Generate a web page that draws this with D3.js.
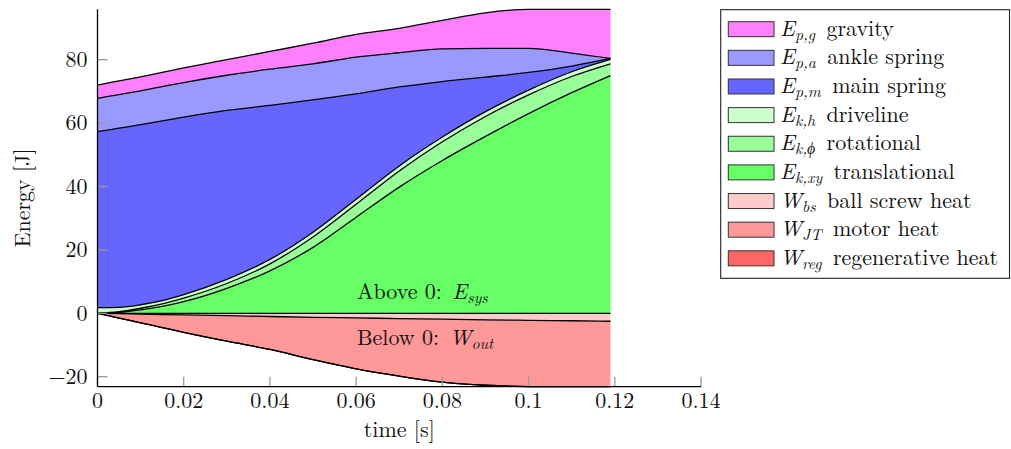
<!DOCTYPE html>
<html>
<head>
<meta charset="utf-8">
<script src="https://cdn.jsdelivr.net/npm/d3@7"></script>
<style>
  html, body { margin: 0; padding: 0; background: #fff; }
  text { white-space: pre; }
</style>
</head>
<body>
<svg id="chart" width="1011" height="449"></svg>
<script>
// Time samples [s]
const time = [0, 0.005, 0.01, 0.015, 0.02, 0.03, 0.04, 0.05, 0.06, 0.07, 0.08, 0.09, 0.1, 0.11, 0.119];

// System energy components [J] (stacked above zero)
const translational = [0, 0.3, 1.1, 2.2, 3.7, 7.9, 13.4, 20.8, 30.3, 39.8, 48.2, 55.8, 63.0, 69.6, 75.0];
const rotational    = [0, 0.2, 0.5, 0.8, 1.1, 1.5, 2.2, 3.3, 4.1, 5.1, 5.9, 6.3, 5.9, 5.1, 3.7];
const driveline     = [1.8, 1.4, 1.1, 1.0, 1.1, 1.3, 1.4, 1.5, 1.6, 1.6, 1.5, 1.5, 1.5, 1.5, 1.4];
const mainSpring    = [55.5, 56.5, 56.8, 56.7, 56.0, 53.3, 48.6, 41.7, 33.2, 24.9, 17.5, 10.9, 5.6, 1.8, 0.3];
const ankleSpring   = [10.5, 10.6, 10.7, 10.8, 10.9, 11.1, 11.4, 11.4, 11.6, 10.8, 10.3, 9.1, 7.6, 4.1, 0.0];
const gravity       = [4.2, 4.3, 4.4, 4.5, 4.6, 4.9, 5.6, 6.5, 7.2, 7.7, 9.0, 11.2, 12.3, 13.8, 15.5];

// Heat losses [J] (stacked below zero)
const ballScrewHeat = [0, -0.1, -0.25, -0.4, -0.5, -0.75, -1.0, -1.25, -1.45, -1.65, -1.85, -2.05, -2.2, -2.35, -2.5];
const motorHeat     = [0, -1.4, -2.75, -4.1, -5.5, -8.05, -10.4, -13.35, -16.05, -18.15, -19.85, -20.65, -20.9, -20.8, -20.65];
const regenHeat     = [0, 0, 0, 0, 0, 0, 0, 0, 0, 0, 0, 0, 0, 0, 0];

// Axis ticks
const xTicks = [0, 0.02, 0.04, 0.06, 0.08, 0.1, 0.12, 0.14];
const xTickLabels = ["0", "0.02", "0.04", "0.06", "0.08", "0.1", "0.12", "0.14"];
const yTicks = [-20, 0, 20, 40, 60, 80];
const yTickLabels = ["\u221220", "0", "20", "40", "60", "80"];

// Series definitions: key, symbol, subscript, description, fill
const positiveSeries = [
  { key: "trans", values: translational, sym: "E", sub: "k,xy", desc: "translational", fill: "#66ff66" },
  { key: "rot",   values: rotational,    sym: "E", sub: "k,\u03d5", desc: "rotational", fill: "#99ff99" },
  { key: "drive", values: driveline,     sym: "E", sub: "k,h", desc: "driveline", fill: "#ccffcc" },
  { key: "main",  values: mainSpring,    sym: "E", sub: "p,m", desc: "main spring", fill: "#6666ff" },
  { key: "ankle", values: ankleSpring,   sym: "E", sub: "p,a", desc: "ankle spring", fill: "#9999ff" },
  { key: "grav",  values: gravity,       sym: "E", sub: "p,g", desc: "gravity", fill: "#ff80ff" }
];
const negativeSeries = [
  { key: "bs",  values: ballScrewHeat, sym: "W", sub: "bs",  desc: "ball screw heat", fill: "#ffcccc" },
  { key: "jt",  values: motorHeat,     sym: "W", sub: "JT",  desc: "motor heat", fill: "#ff9999" },
  { key: "reg", values: regenHeat,     sym: "W", sub: "reg", desc: "regenerative heat", fill: "#ff6666" }
];

const rows = time.map((t, i) => {
  const r = { t };
  positiveSeries.concat(negativeSeries).forEach(s => { r[s.key] = s.values[i]; });
  return r;
});

const stackPos = d3.stack().keys(positiveSeries.map(s => s.key))(rows);
const stackNeg = d3.stack().keys(negativeSeries.map(s => s.key))(rows);

const allLayers = stackPos.concat(stackNeg);
const yMin = d3.min(allLayers, L => d3.min(L, d => Math.min(d[0], d[1])));
const yMax = d3.max(allLayers, L => d3.max(L, d => Math.max(d[0], d[1])));

const plot = { left: 97.5, right: 701, top: 9.3, bottom: 386.7 };
const x = d3.scaleLinear().domain([0, 0.14]).range([plot.left, plot.right]);
const y = d3.scaleLinear().domain([yMin, yMax]).range([plot.bottom, plot.top]);

const svg = d3.select("#chart");
const FONT = '"Latin Modern Roman", "Liberation Serif", serif';
const FS = 22;

// text helper with the serif face applied directly
function label(parent, size) {
  return parent.append("text")
    .style("font-family", FONT)
    .style("font-size", size + "px")
    .attr("fill", "#111");
}

const area = d3.area()
  .curve(d3.curveMonotoneX)
  .x(d => x(d.data.t))
  .y0(d => y(d[0]))
  .y1(d => y(d[1]));
const lineTop = d3.line().curve(d3.curveMonotoneX).x(d => x(d.data.t)).y(d => y(d[1]));
const lineBase = d3.line().curve(d3.curveMonotoneX).x(d => x(d.data.t)).y(d => y(d[0]));

const gArea = svg.append("g");
function drawStack(layers, defs) {
  layers.forEach((L, i) => {
    gArea.append("path").attr("d", area(L)).attr("fill", defs[i].fill).attr("stroke", "none");
  });
}
drawStack(stackPos, positiveSeries);
drawStack(stackNeg, negativeSeries);

// boundary lines
const gLines = svg.append("g").attr("fill", "none").attr("stroke", "#000").attr("stroke-width", 1.3);
gLines.append("path").attr("d", lineBase(stackPos[0]));
stackPos.forEach(L => gLines.append("path").attr("d", lineTop(L)));
stackNeg.forEach(L => gLines.append("path").attr("d", lineTop(L)));

// ticks (inside, gray)
const gTicks = svg.append("g").attr("stroke", "#9a9a9a").attr("stroke-width", 1.3);
xTicks.forEach(v => {
  gTicks.append("line").attr("x1", x(v)).attr("x2", x(v)).attr("y1", plot.bottom).attr("y2", plot.bottom - 10);
});
yTicks.forEach(v => {
  gTicks.append("line").attr("x1", plot.left).attr("x2", plot.left + 10).attr("y1", y(v)).attr("y2", y(v));
});

// axis lines
svg.append("line").attr("x1", plot.left).attr("x2", plot.left).attr("y1", plot.top).attr("y2", plot.bottom)
  .attr("stroke", "#000").attr("stroke-width", 1.3);
svg.append("line").attr("x1", plot.left).attr("x2", plot.right).attr("y1", plot.bottom).attr("y2", plot.bottom)
  .attr("stroke", "#000").attr("stroke-width", 1.3);

// tick labels
xTicks.forEach((v, i) => {
  label(svg, FS).attr("x", x(v)).attr("y", 408.3).attr("text-anchor", "middle").text(xTickLabels[i]);
});
yTicks.forEach((v, i) => {
  label(svg, FS).attr("x", 87.5).attr("y", y(v) + 7.2).attr("text-anchor", "end").text(yTickLabels[i]);
});

// axis titles
label(svg, FS).attr("x", (plot.left + plot.right) / 2).attr("y", 437).attr("text-anchor", "middle").text("time [s]");
label(svg, FS).attr("transform", `translate(29.5,${(plot.top + plot.bottom) / 2}) rotate(-90)`)
  .attr("text-anchor", "middle").text("Energy [J]");

// math label helper: roman prefix, italic symbol with italic subscript, roman suffix
function mathText(sel, prefix, sym, sub, suffix, gap) {
  if (prefix) sel.append("tspan").text(prefix);
  sel.append("tspan").style("font-style", "italic").attr("dx", prefix ? gap : 0).text(sym);
  sel.append("tspan").style("font-style", "italic").style("font-size", (FS * 0.72) + "px").attr("dy", 4).text(sub);
  if (suffix) sel.append("tspan").attr("dy", -4).attr("dx", gap).text(suffix);
}

// annotations
mathText(label(svg, FS).attr("x", 357).attr("y", 298.5), "Above 0: ", "E", "sys", null, 3);
mathText(label(svg, FS).attr("x", 357).attr("y", 344.5), "Below 0: ", "W", "out", null, 3);

// legend
const legendOrder = positiveSeries.slice().reverse().concat(negativeSeries);
const lg = svg.append("g");
lg.append("rect").attr("x", 720.7).attr("y", 9.7).attr("width", 288.8).attr("height", 268.6)
  .attr("fill", "#fff").attr("stroke", "#222").attr("stroke-width", 1.1);
legendOrder.forEach((s, i) => {
  const cy = 29.2 + i * 28.64;
  lg.append("rect").attr("x", 728.3).attr("y", cy - 7.5).attr("width", 45.7).attr("height", 15)
    .attr("fill", s.fill).attr("stroke", "#333").attr("stroke-width", 1);
  const t = label(lg, FS).attr("x", 780).attr("y", cy + 6.5);
  mathText(t, null, s.sym, s.sub, " " + s.desc, 4);
});
</script>
</body>
</html>
